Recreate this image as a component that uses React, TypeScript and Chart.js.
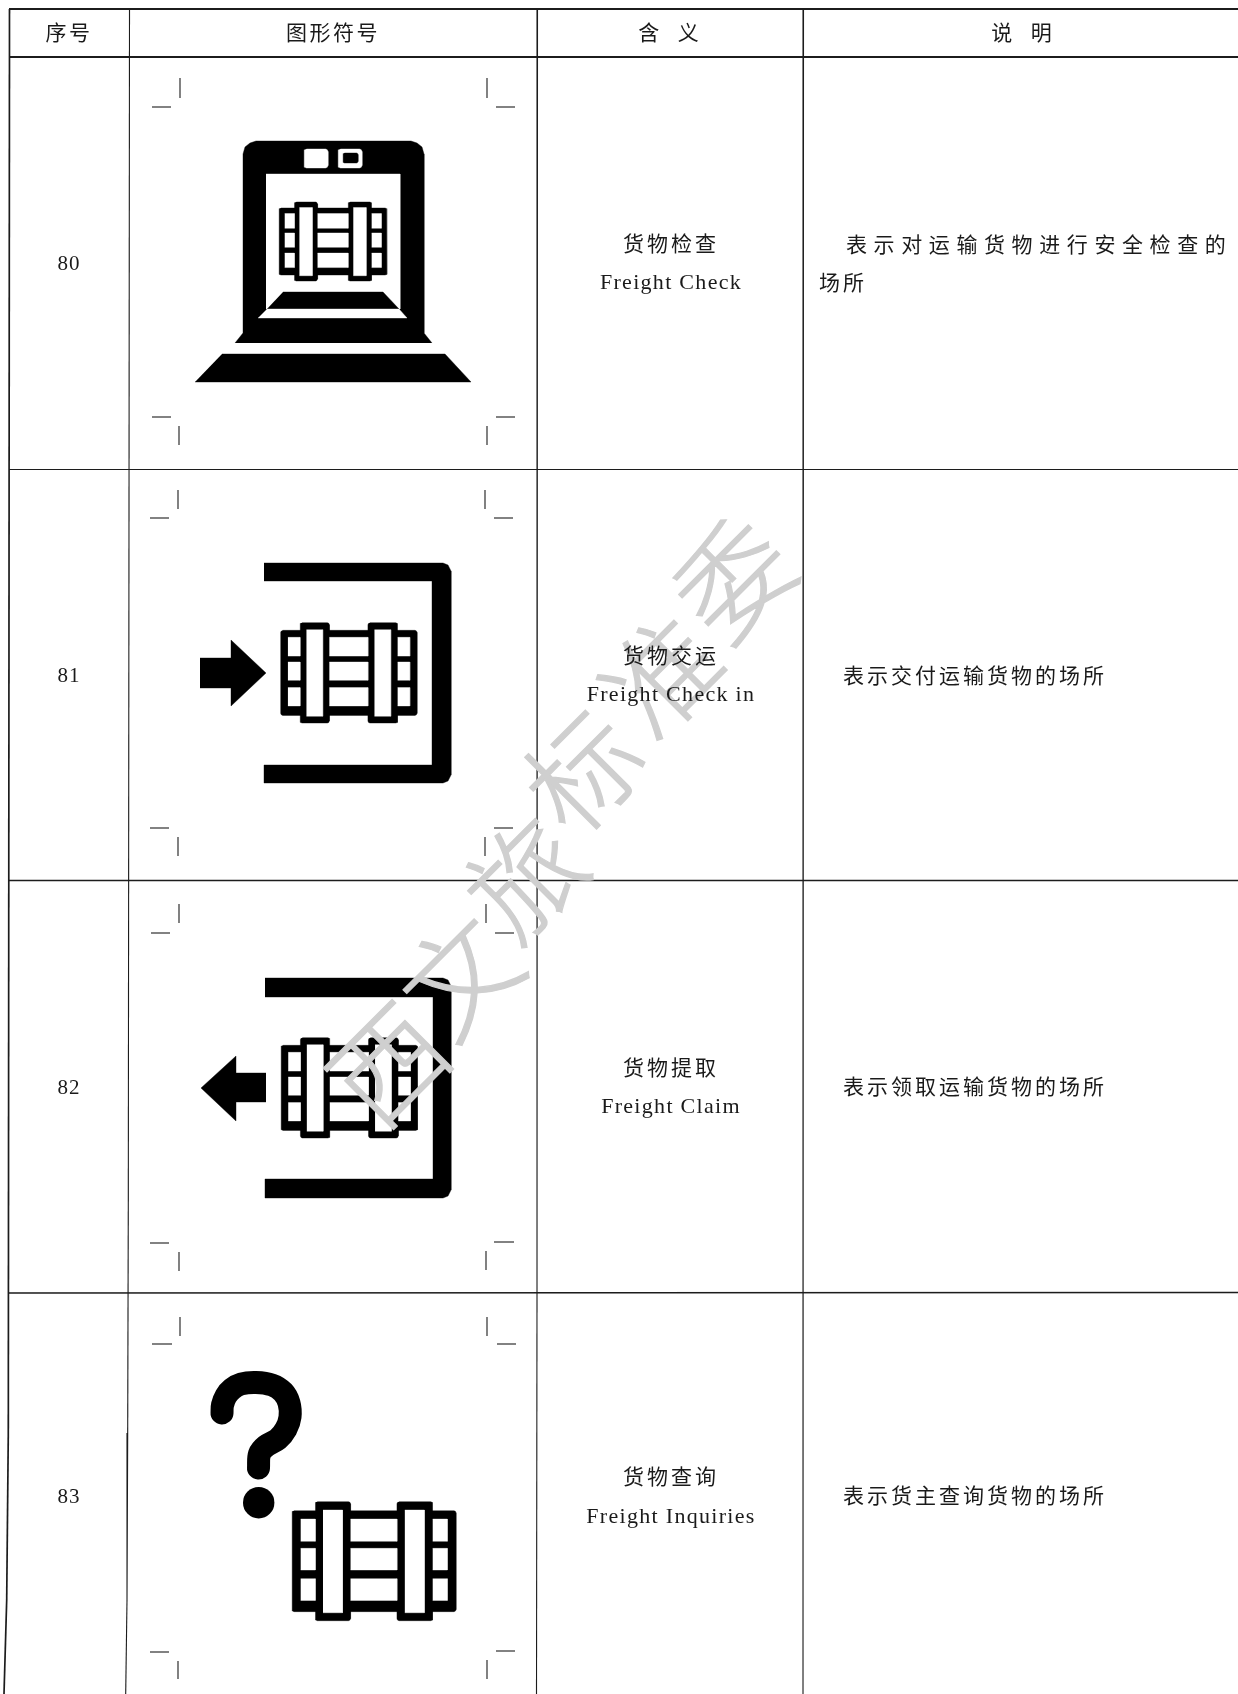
import React, { useEffect, useRef } from "react";
import { Chart, registerables } from "chart.js";

Chart.register(...registerables);

const PAGE_W = 1238;
const PAGE_H = 1694;

type P = { x: number; y: number };
type Seg = [number, number, number, number, number];

// ---- table text ----
const headers = ["序号", "图形符号", "含  义", "说  明"];
const headerX = [69, 333, 670, 1023];
const headerY = 32;
const rowNumbers = ["80", "81", "82", "83"];
const rowNumberY = [264.5, 676, 1088, 1497];
const meaningsCn = ["货物检查", "货物交运", "货物提取", "货物查询"];
const meaningsEn = ["Freight Check", "Freight Check in", "Freight Claim", "Freight Inquiries"];
const meaningCnY = [243.5, 655, 1067, 1476];
const meaningEnY = [283, 695, 1107, 1517];
const notes = [
  "表示交付运输货物的场所",
  "表示领取运输货物的场所",
  "表示货主查询货物的场所",
];
const noteY = [675, 1086, 1495];
const noteLongLine1 = "表示对运输货物进行安全检查的";
const noteLongLine2 = "场所";
const watermarkChars = ["西", "文", "旅", "标", "准", "委"];
const watermarkX = [388, 460, 525, 583, 662, 733];
const watermarkY = [1064, 976, 878, 771, 675, 579];

// ---- table rules: x1, y1, x2, y2, width ----
const tableRules: Seg[] = [
  [9, 9, PAGE_W, 9, 2.2],
  [9, 57, PAGE_W, 57, 2],
  [9, 469.5, PAGE_W, 469.5, 1.1],
  [9, 880.5, PAGE_W, 880.5, 1.3],
  [8, 1293, PAGE_W, 1292.5, 1.3],
  [9.5, 9, 8.3, 1433, 1.7],
  [8.3, 1433, 6.7, 1600, 1.7],
  [6.7, 1600, 4, PAGE_H, 1.7],
  [129.5, 9, 128.3, 1200, 1.1],
  [128.3, 1200, 127.7, 1433, 1.1],
  [127.7, 1433, 127, 1600, 1.1],
  [127, 1600, 125.7, PAGE_H, 1.1],
  [537.5, 9, 537, 1300, 1.1],
  [537, 1300, 536.5, PAGE_H, 1.1],
  [803.5, 9, 803, PAGE_H, 1.1],
];

// ---- crop marks of each symbol cell ----
const cropMarks: Seg[] = [
  [180, 78, 180, 98, 1.1], [152, 107, 171, 107, 1.1], [487, 78, 487, 98, 1.1], [496, 107, 515, 107, 1.1],
  [152, 417, 171, 417, 1.1], [179, 426, 179, 445, 1.1], [496, 417, 515, 417, 1.1], [487, 426, 487, 445, 1.1],
  [178, 490, 178, 509, 1.1], [150, 518, 169, 518, 1.1], [485, 490, 485, 509, 1.1], [494, 518, 513, 518, 1.1],
  [150, 828, 169, 828, 1.1], [178, 837, 178, 856, 1.1], [494, 828, 513, 828, 1.1], [485, 837, 485, 856, 1.1],
  [179, 904, 179, 923, 1.1], [151, 933, 170, 933, 1.1], [486, 904, 486, 923, 1.1], [495, 933, 514, 933, 1.1],
  [150, 1243, 169, 1243, 1.1], [179, 1252, 179, 1271, 1.1], [494, 1242, 514, 1242, 1.1], [486, 1251, 486, 1270, 1.1],
  [180, 1317, 180, 1336, 1.1], [152, 1344, 172, 1344, 1.1], [487, 1317, 487, 1336, 1.1], [497, 1344, 516, 1344, 1.1],
  [150, 1652, 169, 1652, 1.1], [178, 1661, 178, 1679, 1.1], [496, 1651, 515, 1651, 1.1], [487, 1660, 487, 1679, 1.1],
];

// ---- symbol geometry ----
const crateBoxes = [
  [279, 202, 387, 281],
  [280.7, 622.7, 417, 723],
  [281, 1037.7, 417.7, 1138],
  [292, 1501.7, 456, 1620.7],
];
const crateBlack = [
  [0, 0.076, 1, 0.924],
  [0.142, 0, 0.357, 1],
  [0.64, 0, 0.858, 1],
];
const crateWhite = [
  [0.189, 0.07, 0.308, 0.933],
  [0.688, 0.07, 0.807, 0.933],
  [0.053, 0.146, 0.142, 0.333],
  [0.053, 0.392, 0.142, 0.574],
  [0.053, 0.647, 0.142, 0.83],
  [0.357, 0.146, 0.64, 0.333],
  [0.357, 0.392, 0.64, 0.574],
  [0.357, 0.647, 0.64, 0.83],
  [0.858, 0.146, 0.947, 0.333],
  [0.858, 0.392, 0.947, 0.574],
  [0.858, 0.647, 0.947, 0.83],
];

const scannerBlackPoly: number[][] = [
  [235, 343], [243, 333], [243, 154], [245, 147], [250, 143], [256, 141], [411, 141], [417, 143], [422, 147], [424, 154],
  [424, 333], [432, 343],
];
const scannerWhiteRect = [266, 174, 400, 309];
const scannerStrip: number[][] = [[267, 309], [399, 309], [407, 318], [258, 318]];
const scannerRamp: number[][] = [[283, 292], [383, 292], [399, 309], [267, 309]];
const scannerBase: number[][] = [[222, 354], [445, 354], [471, 382], [195, 382]];
const scannerWindows = [
  [304, 149, 328, 168],
  [338, 149, 362, 168],
];
const scannerWindowPane = [343, 153, 358, 163];

const arrowRight: number[][] = [[200, 658], [231, 658], [231, 640], [266, 673], [231, 706], [231, 688], [200, 688]];
const arrowLeft: number[][] = [[266, 1073], [236, 1073], [236, 1056], [201, 1088], [236, 1121], [236, 1102], [266, 1102]];

const bracketRight: number[][] = [
  [264, 563], [443, 563], [448, 565], [451, 571], [451, 775], [448, 781], [443, 783], [264, 783],
  [264, 765], [432, 765], [432, 581], [264, 581],
];
const bracketLeft: number[][] = [
  [265, 978], [443, 978], [448, 980], [451, 986], [451, 1190], [448, 1196], [443, 1198], [265, 1198],
  [265, 1179], [433, 1179], [433, 997], [265, 997],
];

const questionCurve: number[][] = [
  [222, 1413], [222.5, 1405], [226, 1396], [232, 1389], [241, 1384], [256, 1382.5], [272, 1385], [283, 1392],
  [289, 1403], [290, 1417], [286, 1429], [278, 1439], [266, 1446], [259.5, 1454], [258.5, 1468],
];
const questionDot: number[][] = [[258.7, 1502.7]];

// ---- helpers that turn the shapes into points on the chart's own scales ----
const toPts = (a: number[][]): P[] => a.map(([x, y]) => ({ x, y }));
const rectPts = ([x0, y0, x1, y1]: number[]): P[] => [
  { x: x0, y: y0 }, { x: x1, y: y0 }, { x: x1, y: y1 }, { x: x0, y: y1 },
];
const roundRectPts = ([x0, y0, x1, y1]: number[], r: number): P[] => {
  const k = r * 0.3;
  return toPts([
    [x0 + r, y0], [x1 - r, y0], [x1 - k, y0 + k], [x1, y0 + r], [x1, y1 - r], [x1 - k, y1 - k], [x1 - r, y1],
    [x0 + r, y1], [x0 + k, y1 - k], [x0, y1 - r], [x0, y0 + r], [x0 + k, y0 + k],
  ]);
};
const shape = (data: P[], color = "#000") => ({
  data,
  showLine: true,
  fill: "shape",
  backgroundColor: color,
  borderColor: color,
  borderWidth: 0.4,
  pointRadius: 0,
  tension: 0,
});
const segment = ([a, b, c, d, w]: Seg) => ({
  data: [{ x: a, y: b }, { x: c, y: d }],
  showLine: true,
  fill: false,
  borderColor: "#1c1c1c",
  borderWidth: w,
  pointRadius: 0,
  tension: 0,
});

function buildDatasets() {
  const list: any[] = [];
  tableRules.forEach((s) => list.push(segment(s)));
  cropMarks.forEach((s) => list.push(segment(s)));

  list.push(shape(toPts(scannerBlackPoly)));
  list.push(shape(rectPts(scannerWhiteRect), "#fff"));
  list.push(shape(toPts(scannerRamp)));
  list.push(shape(toPts(scannerStrip), "#fff"));
  list.push(shape(toPts(scannerBase)));
  scannerWindows.forEach((w) => list.push(shape(roundRectPts(w, 2.5), "#fff")));
  list.push(shape(roundRectPts(scannerWindowPane, 1.5)));

  list.push(shape(toPts(bracketRight)));
  list.push(shape(toPts(bracketLeft)));
  list.push(shape(toPts(arrowRight)));
  list.push(shape(toPts(arrowLeft)));

  crateBoxes.forEach(([x0, y0, x1, y1]) => {
    const map = ([a, b, c, d]: number[]) => [
      x0 + a * (x1 - x0), y0 + b * (y1 - y0), x0 + c * (x1 - x0), y0 + d * (y1 - y0),
    ];
    crateBlack.forEach((r) => list.push(shape(roundRectPts(map(r), 2))));
    crateWhite.forEach((r) => list.push(shape(rectPts(map(r)), "#fff")));
  });

  list.push({
    data: toPts(questionCurve),
    showLine: true,
    fill: false,
    borderColor: "#000",
    borderWidth: 23,
    borderCapStyle: "round",
    borderJoinStyle: "round",
    tension: 0.35,
    pointRadius: 0,
  });
  list.push({
    data: toPts(questionDot),
    showLine: false,
    pointRadius: 15.7,
    pointBackgroundColor: "#000",
    pointBorderWidth: 0,
  });
  // Chart.js paints the last dataset first.
  return list.reverse();
}

const CJK = '"Noto Sans CJK SC", sans-serif';
const LATIN = '"Liberation Serif", serif';

const textPlugin = {
  id: "tableText",
  afterDatasetsDraw(chart: any) {
    const { ctx, scales } = chart;
    const X = (v: number) => scales.x.getPixelForValue(v);
    const Y = (v: number) => scales.y.getPixelForValue(v);
    const put = (s: string, x: number, y: number, font: string, align: CanvasTextAlign, gap: number) => {
      ctx.font = font;
      ctx.textAlign = align;
      ctx.textBaseline = "middle";
      ctx.fillStyle = "#1a1a1a";
      (ctx as any).letterSpacing = `${gap}px`;
      ctx.fillText(s, X(x), Y(y));
    };
    ctx.save();
    // watermark
    ctx.fillStyle = "#cfcfcf";
    ctx.strokeStyle = "#cfcfcf";
    ctx.lineWidth = 1.2;
    ctx.textAlign = "center";
    ctx.textBaseline = "middle";
    ctx.font = `300 112px ${CJK}`;
    (ctx as any).letterSpacing = "0px";
    watermarkChars.forEach((c, i) => {
      ctx.save();
      ctx.translate(X(watermarkX[i]), Y(watermarkY[i]));
      ctx.rotate((-45 * Math.PI) / 180);
      ctx.fillText(c, 0, 0);
      ctx.strokeText(c, 0, 0);
      ctx.restore();
    });
    const cn = `400 21px ${CJK}`;
    headers.forEach((h, i) => put(h, headerX[i], headerY, cn, "center", i < 2 ? 2.5 : 3));
    rowNumbers.forEach((n, i) => put(n, 69, rowNumberY[i], `21px ${LATIN}`, "center", 1));
    meaningsCn.forEach((m, i) => put(m, 671, meaningCnY[i], cn, "center", 3));
    meaningsEn.forEach((m, i) => put(m, 671, meaningEnY[i], `22px ${LATIN}`, "center", 1.3));
    notes.forEach((n, i) => put(n, 843, noteY[i], cn, "left", 3));
    put(noteLongLine1, 846, 244, cn, "left", 6.6);
    put(noteLongLine2, 819, 282, cn, "left", 3);
    ctx.restore();
  },
};

export default function App() {
  const ref = useRef<HTMLCanvasElement>(null);
  useEffect(() => {
    const chart = new Chart(ref.current as HTMLCanvasElement, {
      type: "scatter",
      data: { datasets: buildDatasets() },
      options: {
        animation: false,
        responsive: false,
        devicePixelRatio: 1,
        layout: { padding: 0, autoPadding: false },
        plugins: { legend: { display: false }, tooltip: { enabled: false }, title: { display: false } },
        scales: {
          x: { type: "linear", display: false, min: 0, max: PAGE_W },
          y: { type: "linear", display: false, min: 0, max: PAGE_H, reverse: true },
        },
      },
      plugins: [textPlugin],
    } as any);
    return () => chart.destroy();
  }, []);
  return (
    <div style={{ position: "absolute", left: 0, top: 0, width: PAGE_W, height: PAGE_H, background: "#fff", overflow: "hidden" }}>
      <canvas ref={ref} width={PAGE_W} height={PAGE_H} style={{ display: "block", width: PAGE_W, height: PAGE_H }} />
    </div>
  );
}
